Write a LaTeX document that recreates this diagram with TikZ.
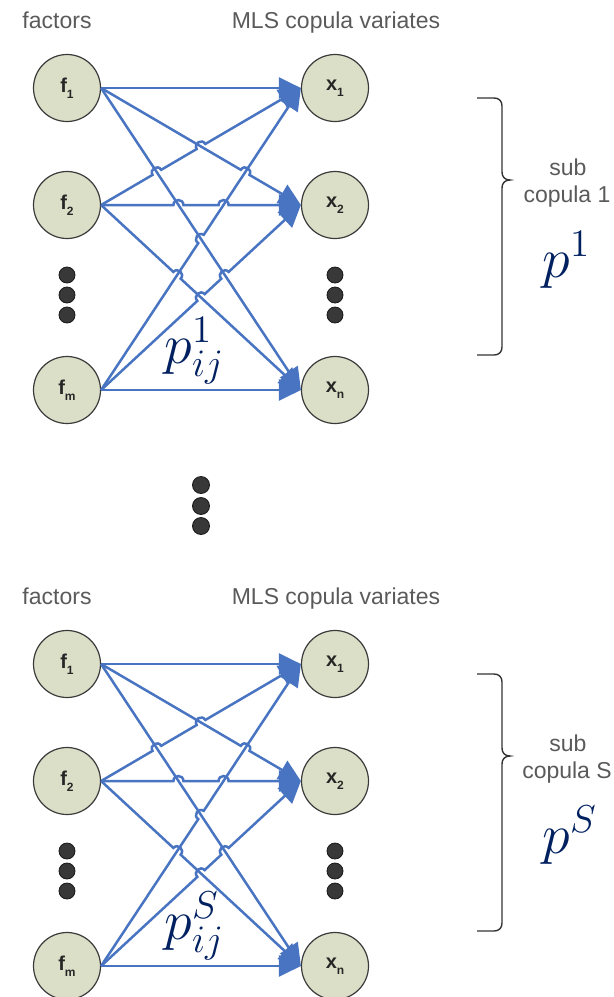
\documentclass[tikz,border=0pt]{standalone}
\usepackage[no-math]{fontspec}
\newfontfamily\arialf{Liberation Sans}
\usetikzlibrary{arrows.meta}
\definecolor{edgeblue}{HTML}{4874C2}
\definecolor{nodefill}{HTML}{DCDFC7}
\definecolor{navy}{HTML}{002060}
\definecolor{labgray}{HTML}{5A5A5A}
\definecolor{nodeline}{HTML}{3A3A3A}
\newcommand\vlab[2]{#1\raisebox{-0.28em}{\fontsize{6}{7}\selectfont #2}}
\tikzset{
 var/.style={circle, draw=nodeline, line width=0.6pt, fill=nodefill, minimum size=33.5pt, inner sep=0pt, font=\arialf\bfseries\fontsize{10}{12}\selectfont, text=black!85},
 link/.style={draw=edgeblue, line width=1.25pt, -{Triangle[length=11pt,width=10.5pt]}},
 jmp/.style={bend left=90, looseness=1.7},
 blob/.style={circle, fill=black!78, draw=black!90, line width=0.4pt, inner sep=0pt, minimum size=8pt},
 head/.style={font=\arialf\fontsize{11.5}{13}\selectfont, text=labgray, anchor=base, inner sep=0pt},
 mathlab/.style={font=\fontsize{20}{24}\selectfont, scale=1.35, text=navy, anchor=base west, inner sep=0pt},
 bracec/.style={draw=black!80, line width=0.7pt}
}
\newcommand\copgroup[4]{%
\begin{scope}[shift={(0,#2)}]
 \node[head] (#1hf) at (57,28) {factors};
 \node[head] (#1hx) at (336,28) {MLS copula variates};
 \node[var] (#1f1) at (67,88) {\vlab{f}{1}};
 \node[var] (#1f2) at (67,205) {\vlab{f}{2}};
 \node[var] (#1fm) at (67,390) {\vlab{f}{m}};
 \node[var] (#1x1) at (335,88) {\vlab{x}{1}};
 \node[var] (#1x2) at (335,205) {\vlab{x}{2}};
 \node[var] (#1xn) at (335,390) {\vlab{x}{n}};
 \node[blob] (#1da) at (67,275) {};
 \node[blob] (#1db) at (67,295) {};
 \node[blob] (#1dc) at (67,315) {};
 \node[blob] (#1ea) at (335,275) {};
 \node[blob] (#1eb) at (335,295) {};
 \node[blob] (#1ec) at (335,315) {};
 % jump points
 \path (#1f1.east) -- (#1x2.west) coordinate[pos=0.6994] (#1a1) coordinate[pos=0.7426] (#1a2);
 \path (#1f2.east) -- (#1x1.west) coordinate[pos=0.2574] (#1b1) coordinate[pos=0.3006] (#1b2)
                                coordinate[pos=0.4784] (#1b3) coordinate[pos=0.5216] (#1b4);
 \path (#1f2.east) -- (#1x2.west) coordinate[pos=0.362] (#1c1) coordinate[pos=0.412] (#1c2)
                                coordinate[pos=0.588] (#1c3) coordinate[pos=0.638] (#1c4);
 \path (#1f2.east) -- (#1xn.west) coordinate[pos=0.3616] (#1d1) coordinate[pos=0.3984] (#1d2);
 \path (#1fm.east) -- (#1x1.west) coordinate[pos=0.4862] (#1e1) coordinate[pos=0.5138] (#1e2);
 \path (#1fm.east) -- (#1x2.west) coordinate[pos=0.4816] (#1g1) coordinate[pos=0.5184] (#1g2)
                                coordinate[pos=0.6016] (#1g3) coordinate[pos=0.6384] (#1g4);
 % links
 \draw[link] (#1f1.east) -- (#1x1.west);
 \draw[link] (#1f1.east) -- (#1a1) to[jmp] (#1a2) -- (#1x2.west);
 \draw[link] (#1f1.east) -- (#1xn.west);
 \draw[link] (#1f2.east) -- (#1b1) to[jmp] (#1b2) -- (#1b3) to[jmp] (#1b4) -- (#1x1.west);
 \draw[link] (#1f2.east) -- (#1c1) to[jmp] (#1c2) -- (#1c3) to[jmp] (#1c4) -- (#1x2.west);
 \draw[link] (#1f2.east) -- (#1d1) to[jmp] (#1d2) -- (#1xn.west);
 \draw[link] (#1fm.east) -- (#1e1) to[jmp] (#1e2) -- (#1x1.west);
 \draw[link] (#1fm.east) -- (#1g1) to[jmp] (#1g2) -- (#1g3) to[jmp] (#1g4) -- (#1x2.west);
 \draw[link] (#1fm.east) -- (#1xn.west);
 % brace
 \draw[bracec] (477,98) -- (494,98) .. controls (499,98) and (502,101) .. (502,106)
   -- (502,172) .. controls (502,177) and (505,180) .. (510,180)
   .. controls (505,180) and (502,183) .. (502,188)
   -- (502,347) .. controls (502,352) and (499,355) .. (494,355) -- (477,355);
 \node[head] (#1sub) at (568,175) {sub};
 \node[head] (#1cop) at (567,202) {copula #3};
 \node[mathlab] (#1p) at (542,277) {$p^{#4}$};
 \node[mathlab] (#1pij) at (164,363) {$p_{ij}^{#4}$};
\end{scope}}
\begin{document}
\begin{tikzpicture}[x=0.5pt, y=-0.5pt]
 \useasboundingbox (0,0) rectangle (614,997);
 \copgroup{A}{0}{1}{1}
 \copgroup{B}{576}{S}{S}
 \node[blob, minimum size=8.5pt] (m1) at (201,485) {};
 \node[blob, minimum size=8.5pt] (m2) at (201,506) {};
 \node[blob, minimum size=8.5pt] (m3) at (201,526) {};
\end{tikzpicture}
\end{document}
